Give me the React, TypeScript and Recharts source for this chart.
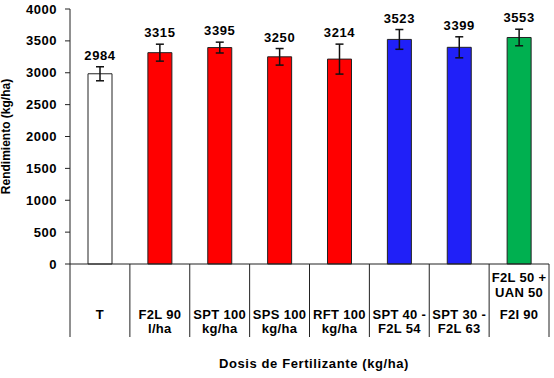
import React from "react";
import { BarChart, Bar, XAxis, YAxis, ErrorBar, Cell } from "recharts";

const categories = [
  "T",
  "F2L 90 l/ha",
  "SPT 100 kg/ha",
  "SPS 100 kg/ha",
  "RFT 100 kg/ha",
  "SPT 40 - F2L 54",
  "SPT 30 - F2L 63",
  "F2L 50 + UAN 50 F2I 90",
];
const tickBottom = [
  ["T"],
  ["F2L 90", "l/ha"],
  ["SPT 100", "kg/ha"],
  ["SPS 100", "kg/ha"],
  ["RFT 100", "kg/ha"],
  ["SPT 40 -", "F2L 54"],
  ["SPT 30 -", "F2L 63"],
  ["F2I 90"],
];
const tickTop = [[], [], [], [], [], [], [], ["F2L 50 +", "UAN 50"]];
const yields = [2984, 3315, 3395, 3250, 3214, 3523, 3399, 3553];
const errors = [110, 133, 85, 130, 235, 155, 165, 130];
const fills = ["#ffffff", "#ff0000", "#ff0000", "#ff0000", "#ff0000", "#2020f8", "#2020f8", "#00b050"];
const yTicks = [0, 500, 1000, 1500, 2000, 2500, 3000, 3500, 4000];

const W = 554;
const H = 378;
const MARGIN = { top: 9, right: 5, bottom: 41, left: 0 };
const Y_AXIS_W = 70;
const X_AXIS_H = 73;
const FONT = "'Liberation Sans', Arial, sans-serif";

const data = categories.map((name, i) => ({
  name,
  yield: yields[i],
  err: errors[i],
}));

const band = (W - MARGIN.left - MARGIN.right - Y_AXIS_W) / categories.length;

function CategoryTick(props: any) {
  const { x, y, index } = props;
  const half = band / 2;
  return (
    <g>
      <line x1={x - half} x2={x - half} y1={y} y2={y + X_AXIS_H} stroke="#222" />
      {index === categories.length - 1 && (
        <line x1={x + half} x2={x + half} y1={y} y2={y + X_AXIS_H} stroke="#222" />
      )}
      {tickTop[index].map((t, k) => (
        <text key={"t" + k} x={x} y={y + 18 + k * 15} textAnchor="middle"
          fontFamily={FONT} fontWeight="bold" fontSize={13} letterSpacing={0.3} fill="#000">
          {t}
        </text>
      ))}
      {tickBottom[index].map((t, k) => (
        <text key={"b" + k} x={x} y={y + 55 + k * 14} textAnchor="middle"
          fontFamily={FONT} fontWeight="bold" fontSize={13} letterSpacing={0.3} fill="#000">
          {t}
        </text>
      ))}
    </g>
  );
}

function ValueLabel(props: any) {
  const { x, y, width, height, value, index } = props;
  const errPx = (errors[index] * height) / value;
  return (
    <text x={x + width / 2} y={y - errPx - 7} textAnchor="middle"
      fontFamily={FONT} fontWeight="bold" fontSize={13} letterSpacing={0.6} fill="#000">
      {value}
    </text>
  );
}

export default function App() {
  return (
    <div style={{ position: "absolute", left: 0, top: 0, background: "#fff" }}>
      <BarChart width={W} height={H} data={data} margin={MARGIN} barSize={24}>
        <YAxis
          width={Y_AXIS_W}
          domain={[0, 4000]}
          ticks={yTicks}
          interval={0}
          tickSize={5}
          tickMargin={8}
          axisLine={{ stroke: "#222" }}
          tickLine={{ stroke: "#222" }}
          tick={{ fill: "#000", fontFamily: FONT, fontWeight: "bold", fontSize: 13, letterSpacing: 0.5 }}
          label={{
            value: "Rendimiento (kg/ha)",
            angle: -90,
            position: "insideLeft",
            offset: 6,
            style: { fill: "#000", fontFamily: FONT, fontWeight: "bold", fontSize: 12, textAnchor: "middle" },
          }}
        />
        <XAxis
          dataKey="name"
          height={X_AXIS_H}
          interval={0}
          tickLine={false}
          tickSize={0}
          tickMargin={0}
          axisLine={{ stroke: "#222" }}
          tick={<CategoryTick />}
        />
        <Bar dataKey="yield" stroke="#222" strokeWidth={1} isAnimationActive={false} label={<ValueLabel />}>
          {data.map((d, i) => (
            <Cell key={d.name} fill={fills[i]} />
          ))}
          <ErrorBar dataKey="err" width={4} stroke="#111" strokeWidth={1.5} isAnimationActive={false} />
        </Bar>
        <text x={314} y={368} textAnchor="middle" fontFamily={FONT} fontWeight="bold"
          fontSize={13} letterSpacing={0.6} fill="#000">
          Dosis de Fertilizante (kg/ha)
        </text>
      </BarChart>
    </div>
  );
}
